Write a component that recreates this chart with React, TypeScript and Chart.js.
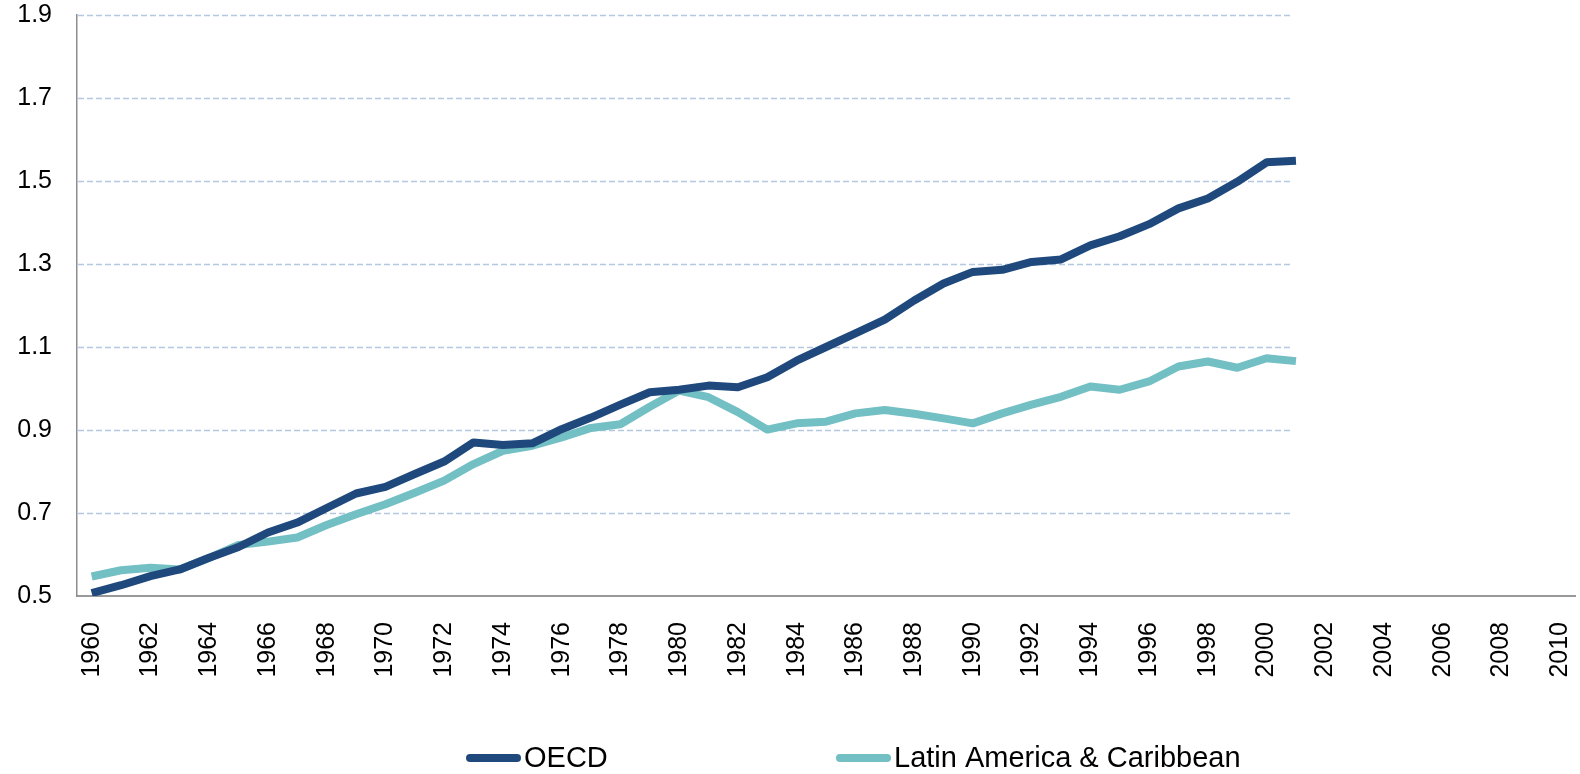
import React, { useEffect, useRef } from "react";
import { Chart, registerables } from "chart.js";

Chart.register(...registerables);

const years = [
  "1960", "1961", "1962", "1963", "1964", "1965", "1966", "1967", "1968", "1969",
  "1970", "1971", "1972", "1973", "1974", "1975", "1976", "1977", "1978", "1979",
  "1980", "1981", "1982", "1983", "1984", "1985", "1986", "1987", "1988", "1989",
  "1990", "1991", "1992", "1993", "1994", "1995", "1996", "1997", "1998", "1999",
  "2000", "2001", "2002", "2003", "2004", "2005", "2006", "2007", "2008", "2009",
  "2010",
];

const oecd = [
  0.507, 0.526, 0.548, 0.564, 0.592, 0.618, 0.653, 0.677, 0.712, 0.747,
  0.763, 0.794, 0.824, 0.870, 0.864, 0.868, 0.902, 0.930, 0.961, 0.991,
  0.997, 1.007, 1.003, 1.027, 1.067, 1.100, 1.133, 1.166, 1.212, 1.253,
  1.281, 1.286, 1.305, 1.311, 1.345, 1.367, 1.396, 1.434, 1.458, 1.498,
  1.545, 1.549,
];

const latinAmerica = [
  0.547, 0.562, 0.568, 0.564, 0.592, 0.623, 0.631, 0.641, 0.671, 0.697,
  0.721, 0.749, 0.778, 0.818, 0.850, 0.862, 0.882, 0.905, 0.914, 0.956,
  0.995, 0.979, 0.943, 0.901, 0.916, 0.920, 0.940, 0.948, 0.939, 0.928,
  0.916, 0.940, 0.961, 0.980, 1.005, 0.997, 1.017, 1.053, 1.065, 1.050,
  1.073, 1.066,
];

const seriesNames = ["OECD", "Latin America & Caribbean"];
const seriesColors = ["#1F497D", "#72BFC4"];

const yMin = 0.5;
const yMax = 1.9;
const yStep = 0.2;

const partialGrid = {
  id: "partialGrid",
  beforeDatasetsDraw(chart: any) {
    const { ctx, scales } = chart;
    const x = scales.x;
    const y = scales.y;
    const lastIdx = Math.max(...chart.data.datasets.map((d: any) => d.data.length)) - 1;
    const xEnd = x.getPixelForValue(lastIdx) - 6;
    ctx.save();
    ctx.strokeStyle = "#B4C8E2";
    ctx.lineWidth = 1.5;
    ctx.setLineDash([6, 3]);
    y.ticks.forEach((t: any) => {
      if (t.value <= y.min + 1e-9) return;
      const py = Math.round(y.getPixelForValue(t.value)) + 0.5;
      ctx.beginPath();
      ctx.moveTo(x.left + 1, py);
      ctx.lineTo(xEnd, py);
      ctx.stroke();
    });
    ctx.restore();
  },
};

const customLegend = {
  id: "customLegend",
  afterDraw(chart: any) {
    const { ctx } = chart;
    const itemStarts = [466, 836];
    const cy = 758;
    const sampleLen = 55;
    ctx.save();
    ctx.font = "29px 'Liberation Sans', Arial, sans-serif";
    ctx.textBaseline = "middle";
    chart.data.datasets.forEach((ds: any, i: number) => {
      const cx = itemStarts[i];
      ctx.strokeStyle = ds.borderColor;
      ctx.lineWidth = 8;
      ctx.lineCap = "round";
      ctx.beginPath();
      ctx.moveTo(cx + 4, cy);
      ctx.lineTo(cx + sampleLen - 4, cy);
      ctx.stroke();
      ctx.fillStyle = "#000";
      ctx.fillText(ds.label, cx + sampleLen + 3, cy + 1);
    });
    ctx.restore();
  },
};

export default function App() {
  const canvasRef = useRef<HTMLCanvasElement | null>(null);

  useEffect(() => {
    document.body.style.margin = "0";
    const canvas = canvasRef.current;
    if (!canvas) return;
    const font = "'Liberation Sans', Arial, sans-serif";
    const chart = new Chart(canvas, {
      type: "line",
      data: {
        labels: years,
        datasets: [
          {
            label: seriesNames[0],
            data: oecd,
            borderColor: seriesColors[0],
            backgroundColor: seriesColors[0],
            borderWidth: 8,
            pointRadius: 0,
            tension: 0,
            borderJoinStyle: "round",
            borderCapStyle: "butt",
          },
          {
            label: seriesNames[1],
            data: latinAmerica,
            borderColor: seriesColors[1],
            backgroundColor: seriesColors[1],
            borderWidth: 8,
            pointRadius: 0,
            tension: 0,
            borderJoinStyle: "round",
            borderCapStyle: "butt",
          },
        ],
      },
      options: {
        animation: false,
        responsive: true,
        maintainAspectRatio: false,
        layout: { padding: { left: 17, top: 15, right: 5, bottom: 88 } },
        plugins: {
          legend: { display: false },
          tooltip: { enabled: false },
        },
        scales: {
          x: {
            offset: true,
            grid: { display: false, drawTicks: false },
            border: { display: true, color: "#999999", width: 2 },
            ticks: {
              autoSkip: false,
              minRotation: 90,
              maxRotation: 90,
              padding: 26,
              color: "#000",
              font: { family: font, size: 25 },
              callback: (_v: any, i: number) => (i % 2 === 0 ? years[i] : ""),
            },
            afterFit: (s: any) => {
              s.height = 90;
              s.paddingLeft = 0;
              s.paddingRight = 0;
            },
          },
          y: {
            min: yMin,
            max: yMax,
            grid: { display: false, drawTicks: false },
            border: { display: true, color: "#8E8E8E", width: 1.5 },
            ticks: {
              stepSize: yStep,
              padding: 25,
              color: "#000",
              font: { family: font, size: 25 },
              callback: (v: any) => Number(v).toFixed(1),
            },
            afterFit: (s: any) => {
              s.width = 60;
              s.paddingTop = 0;
              s.paddingBottom = 0;
            },
          },
        },
      },
      plugins: [partialGrid, customLegend],
    });
    return () => chart.destroy();
  }, []);

  return (
    <div style={{ width: 1580, height: 774, position: "relative" }}>
      <canvas ref={canvasRef} />
    </div>
  );
}
